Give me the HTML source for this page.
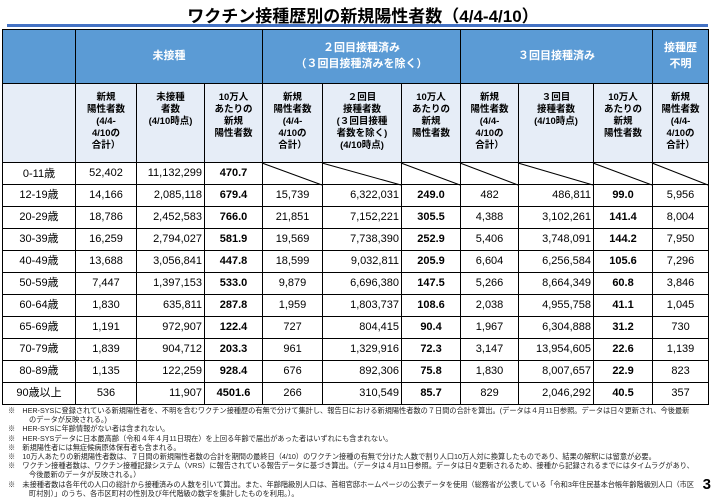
<!DOCTYPE html>
<html><head><meta charset="utf-8"><style>
body{margin:0;width:715px;height:498px;background:#fff;position:relative;overflow:hidden;font-family:"Liberation Sans","Noto Sans CJK JP",sans-serif;}
.title{position:absolute;left:0;width:726px;top:2px;text-align:center;font-size:17px;font-weight:bold;color:#000;}
.bar{position:absolute;left:7px;top:24px;width:701px;height:3px;background:#4472C4;}
table{position:absolute;left:2px;top:29px;border-collapse:collapse;table-layout:fixed;width:706px;}
td{border:1.5px solid #000;padding:0;text-align:center;font-size:11px;color:#000;}
tr.h1 td{background:#5B9BD5;color:#fff;font-weight:bold;font-size:11px;line-height:16px;height:52.5px;}
tr.h2 td{background:#E6EDF7;font-weight:bold;font-size:9.5px;line-height:12px;vertical-align:top;padding-top:8px;height:70.5px;}
tr.d td{height:21px;line-height:18px;}
tr.r0 td{height:20.5px;}
td.r{text-align:right;padding-right:2px;}
td.b{font-weight:bold;}
.notes{position:absolute;left:8px;top:406px;font-size:7.2px;line-height:9.2px;color:#222;width:688px;}
.notes div{padding-left:21px;text-indent:-21px;}
.pg{position:absolute;right:4px;top:476px;font-size:15px;font-weight:bold;}
svg.diag{position:absolute;left:0;top:0;}
</style></head><body>
<div class="title">ワクチン接種歴別の新規陽性者数（4/4-4/10）</div>
<div class="bar"></div>
<table>
<colgroup><col style="width:73px"><col style="width:61px"><col style="width:68px"><col style="width:58px"><col style="width:60px"><col style="width:79px"><col style="width:59px"><col style="width:58px"><col style="width:75px"><col style="width:59px"><col style="width:56px"></colgroup>
<tr class="h1"><td></td><td colspan="3">未接種</td><td colspan="3">２回目接種済み<br>（３回目接種済みを除く）</td><td colspan="3">３回目接種済み</td><td>接種歴<br>不明</td></tr>
<tr class="h2"><td></td><td>新規<br>陽性者数<br>(4/4-<br>4/10の<br>合計）</td><td>未接種<br>者数<br>(4/10時点)</td><td>10万人<br>あたりの<br>新規<br>陽性者数</td><td>新規<br>陽性者数<br>(4/4-<br>4/10の<br>合計）</td><td>２回目<br>接種者数<br>(３回目接種<br>者数を除く)<br>(4/10時点)</td><td>10万人<br>あたりの<br>新規<br>陽性者数</td><td>新規<br>陽性者数<br>(4/4-<br>4/10の<br>合計）</td><td>３回目<br>接種者数<br>(4/10時点)</td><td>10万人<br>あたりの<br>新規<br>陽性者数</td><td>新規<br>陽性者数<br>(4/4-<br>4/10の<br>合計）</td></tr>
<tr class="r0"><td>0-11歳</td><td>52,402</td><td class="r">11,132,299</td><td class="b">470.7</td><td></td><td></td><td></td><td></td><td></td><td></td><td></td></tr>
<tr class="d"><td>12-19歳</td><td>14,166</td><td class="r">2,085,118</td><td class="b">679.4</td><td>15,739</td><td class="r">6,322,031</td><td class="b">249.0</td><td>482</td><td class="r">486,811</td><td class="b">99.0</td><td>5,956</td></tr>
<tr class="d"><td>20-29歳</td><td>18,786</td><td class="r">2,452,583</td><td class="b">766.0</td><td>21,851</td><td class="r">7,152,221</td><td class="b">305.5</td><td>4,388</td><td class="r">3,102,261</td><td class="b">141.4</td><td>8,004</td></tr>
<tr class="d"><td>30-39歳</td><td>16,259</td><td class="r">2,794,027</td><td class="b">581.9</td><td>19,569</td><td class="r">7,738,390</td><td class="b">252.9</td><td>5,406</td><td class="r">3,748,091</td><td class="b">144.2</td><td>7,950</td></tr>
<tr class="d"><td>40-49歳</td><td>13,688</td><td class="r">3,056,841</td><td class="b">447.8</td><td>18,599</td><td class="r">9,032,811</td><td class="b">205.9</td><td>6,604</td><td class="r">6,256,584</td><td class="b">105.6</td><td>7,296</td></tr>
<tr class="d"><td>50-59歳</td><td>7,447</td><td class="r">1,397,153</td><td class="b">533.0</td><td>9,879</td><td class="r">6,696,380</td><td class="b">147.5</td><td>5,266</td><td class="r">8,664,349</td><td class="b">60.8</td><td>3,846</td></tr>
<tr class="d"><td>60-64歳</td><td>1,830</td><td class="r">635,811</td><td class="b">287.8</td><td>1,959</td><td class="r">1,803,737</td><td class="b">108.6</td><td>2,038</td><td class="r">4,955,758</td><td class="b">41.1</td><td>1,045</td></tr>
<tr class="d"><td>65-69歳</td><td>1,191</td><td class="r">972,907</td><td class="b">122.4</td><td>727</td><td class="r">804,415</td><td class="b">90.4</td><td>1,967</td><td class="r">6,304,888</td><td class="b">31.2</td><td>730</td></tr>
<tr class="d"><td>70-79歳</td><td>1,839</td><td class="r">904,712</td><td class="b">203.3</td><td>961</td><td class="r">1,329,916</td><td class="b">72.3</td><td>3,147</td><td class="r">13,954,605</td><td class="b">22.6</td><td>1,139</td></tr>
<tr class="d"><td>80-89歳</td><td>1,135</td><td class="r">122,259</td><td class="b">928.4</td><td>676</td><td class="r">892,306</td><td class="b">75.8</td><td>1,830</td><td class="r">8,007,657</td><td class="b">22.9</td><td>823</td></tr>
<tr class="d"><td>90歳以上</td><td>536</td><td class="r">11,907</td><td class="b">4501.6</td><td>266</td><td class="r">310,549</td><td class="b">85.7</td><td>829</td><td class="r">2,046,292</td><td class="b">40.5</td><td>357</td></tr>
</table>
<svg class="diag" width="715" height="498"><g stroke="#000" stroke-width="1">
<line x1="262" y1="163" x2="322" y2="185"/><line x1="322" y1="163" x2="401" y2="185"/><line x1="401" y1="163" x2="460" y2="185"/><line x1="460" y1="163" x2="518" y2="185"/><line x1="518" y1="163" x2="593" y2="185"/><line x1="593" y1="163" x2="652" y2="185"/><line x1="652" y1="163" x2="708" y2="185"/></g></svg>
<div class="notes">
<div>※　HER-SYSに登録されている新規陽性者を、不明を含むワクチン接種歴の有無で分けて集計し、報告日における新規陽性者数の７日間の合計を算出。(データは４月11日参照。データは日々更新され、今後最新のデータが反映される。)</div>
<div>※　HER-SYSに年齢情報がない者は含まれない。</div>
<div>※　HER-SYSデータに日本最高齢（令和４年４月11日現在）を上回る年齢で届出があった者はいずれにも含まれない。</div>
<div>※　新規陽性者には無症候病原体保有者も含まれる。</div>
<div>※　10万人あたりの新規陽性者数は、７日間の新規陽性者数の合計を期間の最終日（4/10）のワクチン接種の有無で分けた人数で割り人口10万人対に換算したものであり、結果の解釈には留意が必要。</div>
<div>※　ワクチン接種者数は、ワクチン接種記録システム（VRS）に報告されている報告データに基づき算出。（データは４月11日参照。データは日々更新されるため、接種から記録されるまでにはタイムラグがあり、今後最新のデータが反映される。）</div>
<div>※　未接種者数は各年代の人口の総計から接種済みの人数を引いて算出。また、年齢階級別人口は、首相官邸ホームページの公表データを使用（総務省が公表している「令和3年住民基本台帳年齢階級別人口（市区町村別）」のうち、各市区町村の性別及び年代階級の数字を集計したものを利用。）。</div>
</div>
<div class="pg">3</div>
</body></html>
